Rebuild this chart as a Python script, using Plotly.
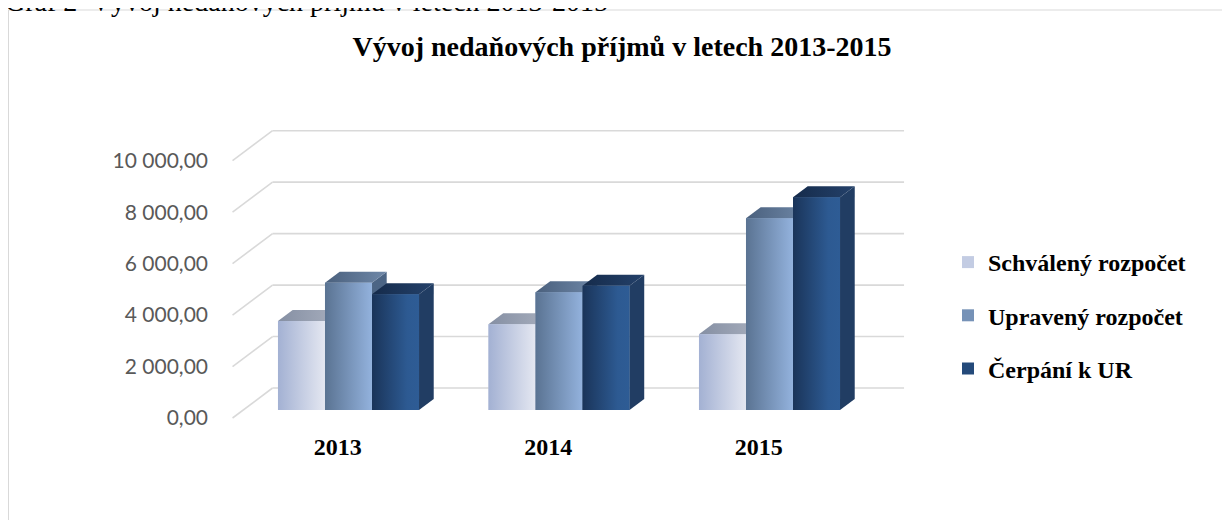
import plotly.graph_objects as go

# ---------------- data ----------------
years = ["2013", "2014", "2015"]
series_names = ["Schválený rozpočet", "Upravený rozpočet", "Čerpání k UR"]
schvaleny = [3460, 3330, 2940]
upraveny = [4950, 4575, 7450]
cerpani = [4500, 4830, 8265]
y_ticks = [0, 2000, 4000, 6000, 8000, 10000]

title_text = "Vývoj nedaňových příjmů v letech 2013-2015"
caption_text = "Graf 2  Vývoj nedaňových příjmů v letech 2013-2015"

# ---------------- layout geometry / style ----------------
BODY = 8                      # browser body margin around the figure
W, H = 1230 - 2 * BODY, 528 - 2 * BODY
# plot area in page pixels
L, R, T, B = 213, 910, 95, 430
PW, PH = R - L, B - T
CAT0_PX, CAT_STEP_PX = 348.5, 210.5
FLOOR_PX, PX_PER_UNIT = 410, 0.02573

xr = [(L - CAT0_PX) / CAT_STEP_PX, (R - CAT0_PX) / CAT_STEP_PX]
yr = [-(B - FLOOR_PX) / PX_PER_UNIT, (FLOOR_PX - T) / PX_PER_UNIT]
sx = PW / (xr[1] - xr[0])
sy = PH / (yr[1] - yr[0])


def dx(px):
    return px / sx


def dy(px):
    return px / sy


def px_to_paper_x(px):
    return (px - L) / PW


def px_to_paper_y(py):
    return (B - py) / PH


BAR_D = (14.7, 11.0)      # depth of bars (px right, px up)
BACK_D = (29.3, 22.0)     # back wall offset from bar front plane
FRONT_D = (-10.7, -8.0)   # front edge offset from bar front plane
BARGAP = 0.33
bw = (1 - BARGAP) / 3

front_scales = [
    [[0, "#A3B1D3"], [1, "#E4E7F1"]],
    [[0, "#5A7392"], [1, "#93B2DD"]],
    [[0, "#1A3459"], [0.75, "#2D5A92"], [1, "#2E5C95"]],
]
top_scales = [
    [[0, "#858FA3"], [1, "#A8AFBE"]],
    [[0, "#4A607D"], [1, "#6F88A8"]],
    [[0, "#152B4B"], [1, "#24416A"]],
]
side_colors = ["#8C98B4", "#4C6585", "#213D63"]
legend_colors = ["#C3CCE3", "#7692B7", "#244A7A"]

series_values = [schvaleny, upraveny, cerpani]

fig = go.Figure()

# real bars (front faces) - also provide the legend
for k, (name, vals) in enumerate(zip(series_names, series_values)):
    fig.add_trace(go.Bar(
        x=list(range(len(years))), y=vals, name=name,
        marker=dict(color=legend_colors[k], line=dict(width=0)),
        legendgroup=name, hoverinfo="skip",
    ))

# 3D shading faces drawn from the same values
ddx, ddy = dx(BAR_D[0]), dy(BAR_D[1])
for i in range(len(years)):
    for k, vals in enumerate(series_values):
        v = vals[i]
        x0 = i + (k - 1) * bw - bw / 2
        x1 = x0 + bw
        # side face
        fig.add_trace(go.Scatter(
            x=[x1, x1 + ddx, x1 + ddx, x1, x1], y=[0, ddy, v + ddy, v, 0],
            mode="lines", line=dict(width=0), fill="toself",
            fillcolor=side_colors[k], showlegend=False, hoverinfo="skip"))
        # top face
        fig.add_trace(go.Scatter(
            x=[x0, x1, x1 + ddx, x0 + ddx, x0], y=[v, v, v + ddy, v + ddy, v],
            mode="lines", line=dict(width=0), fill="toself",
            fillgradient=dict(type="horizontal", colorscale=top_scales[k]),
            showlegend=False, hoverinfo="skip"))
        # front face with gradient
        fig.add_trace(go.Scatter(
            x=[x0, x1, x1, x0, x0], y=[0, 0, v, v, 0],
            mode="lines", line=dict(width=0), fill="toself",
            fillgradient=dict(type="horizontal", colorscale=front_scales[k]),
            showlegend=False, hoverinfo="skip"))

# gridlines on back wall + left side wall
shapes = []
floor_x0, floor_x1 = -0.5, len(years) - 0.5
for v in y_ticks:
    bx0 = floor_x0 + dx(BACK_D[0])
    bx1 = floor_x1 + dx(BACK_D[0])
    by = v + dy(BACK_D[1])
    fx = floor_x0 + dx(FRONT_D[0])
    fy = v + dy(FRONT_D[1])
    shapes.append(dict(type="line", xref="x", yref="y", x0=bx0, x1=bx1, y0=by, y1=by,
                       line=dict(color="#D9D9D9", width=1.6), layer="below"))
    shapes.append(dict(type="line", xref="x", yref="y", x0=fx, x1=bx0, y0=fy, y1=by,
                       line=dict(color="#D9D9D9", width=1.6), layer="below"))

# outer chart border: top and left edges only (page pixels)
shapes.append(dict(type="line", xref="paper", yref="paper",
                   x0=px_to_paper_x(BODY + 0.5), x1=px_to_paper_x(1240),
                   y0=px_to_paper_y(10), y1=px_to_paper_y(10),
                   line=dict(color="#D9D9D9", width=1), layer="below"))
shapes.append(dict(type="line", xref="paper", yref="paper",
                   x0=px_to_paper_x(BODY + 0.5), x1=px_to_paper_x(BODY + 0.5),
                   y0=px_to_paper_y(10), y1=px_to_paper_y(540),
                   line=dict(color="#D9D9D9", width=1), layer="below"))

fig.update_layout(
    width=W, height=H,
    margin=dict(l=L - BODY, r=W - (R - BODY), t=T - BODY, b=H - (B - BODY)),
    paper_bgcolor="white", plot_bgcolor="white",
    barmode="group", bargap=BARGAP, bargroupgap=0,
    separators=", ",
    showlegend=True,
    title=dict(text=title_text, x=(622 - BODY) / W, xanchor="center", xref="container",
               y=1 - (46 - BODY) / H, yanchor="middle", yref="container",
               font=dict(family="Liberation Serif", size=28, color="black", weight="bold")),
    xaxis=dict(range=xr, showgrid=False, zeroline=False, showline=False,
               tickvals=[i + dx(FRONT_D[0]) for i in range(len(years))], ticktext=years,
               ticks="", tickfont=dict(family="Liberation Serif", size=24, color="black", weight="bold")),
    yaxis=dict(range=yr, showgrid=False, zeroline=False, showline=False, showticklabels=False),
    yaxis2=dict(range=[yr[0] - dy(FRONT_D[1]), yr[1] - dy(FRONT_D[1])], overlaying="y", side="left",
                showgrid=False, zeroline=False, showline=False, tickvals=y_ticks,
                tickformat=",.2f", ticks="", ticklabelstandoff=4,
                tickfont=dict(family="Lato", size=21, color="#595959")),
    legend=dict(x=px_to_paper_x(948), xanchor="left", y=px_to_paper_y(240), yanchor="top",
                font=dict(family="Liberation Serif", size=24, color="black", weight="bold"),
                tracegroupgap=19, bgcolor="rgba(0,0,0,0)"),
    shapes=shapes,
    annotations=[dict(text=caption_text, xref="paper", yref="paper",
                      x=px_to_paper_x(3), xanchor="left", y=px_to_paper_y(19), yanchor="bottom",
                      showarrow=False,
                      font=dict(family="Liberation Serif", size=28, color="black"))],
)

# dummy trace to activate yaxis2 labels
fig.add_trace(go.Scatter(x=[None], y=[None], yaxis="y2", showlegend=False, hoverinfo="skip"))

fig.write_html("out.html")
